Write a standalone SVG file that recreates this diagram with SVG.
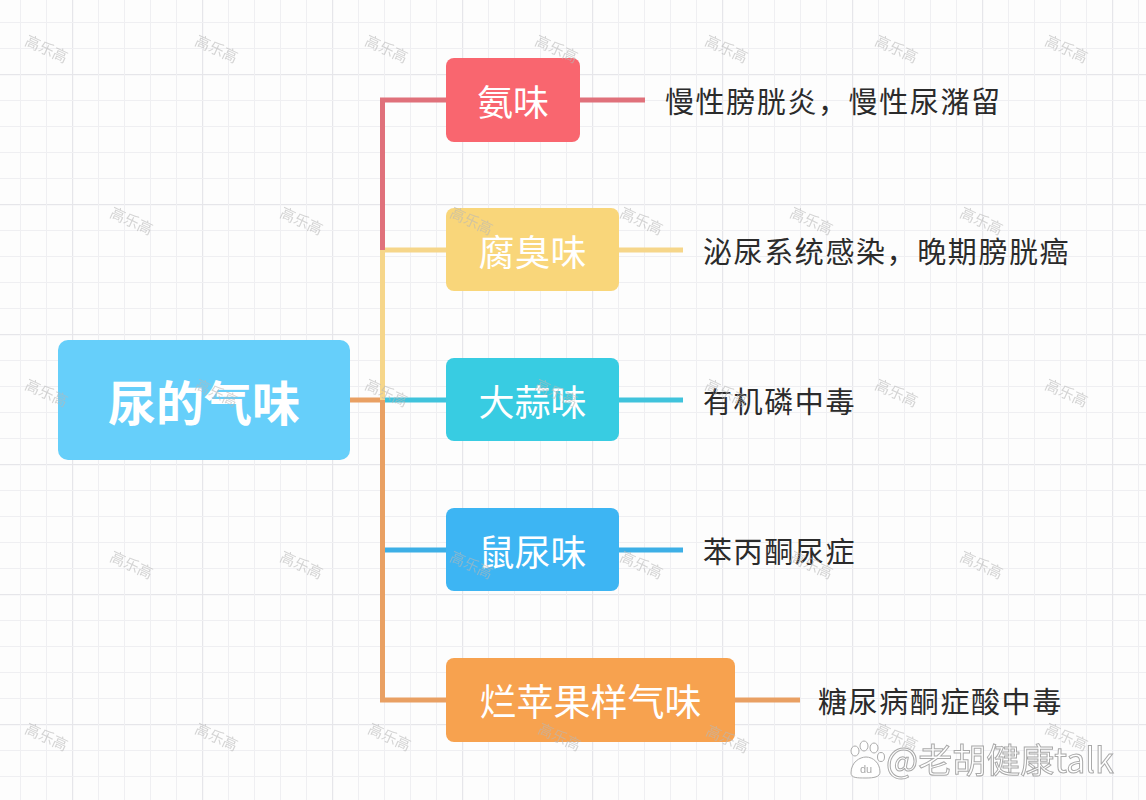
<svg xmlns="http://www.w3.org/2000/svg" width="1146" height="800" viewBox="0 0 1146 800">
  <defs>
    <pattern id="grid" x="72" y="74" width="130" height="130" patternUnits="userSpaceOnUse">
      <rect x="0" y="0" width="1.2" height="130" fill="#e6e6ea"/>
      <rect x="0" y="0" width="130" height="1.2" fill="#e6e6ea"/>
      <rect x="26" y="0" width="1" height="130" fill="#efeff2"/>
      <rect x="52" y="0" width="1" height="130" fill="#efeff2"/>
      <rect x="78" y="0" width="1" height="130" fill="#efeff2"/>
      <rect x="104" y="0" width="1" height="130" fill="#efeff2"/>
      <rect x="0" y="26" width="130" height="1" fill="#efeff2"/>
      <rect x="0" y="52" width="130" height="1" fill="#efeff2"/>
      <rect x="0" y="78" width="130" height="1" fill="#efeff2"/>
      <rect x="0" y="104" width="130" height="1" fill="#efeff2"/>
    </pattern>
  </defs>
  <style>
    .cjk { font-family: "Noto Sans CJK SC", "Noto Sans", sans-serif; }
    .node-text { fill: #ffffff; font-size: 36px; text-anchor: middle; dominant-baseline: central; }
    .root-text { fill: #ffffff; font-size: 48px; font-weight: bold; text-anchor: middle; dominant-baseline: central; }
    .desc { fill: #2b2b2b; font-size: 29px; dominant-baseline: central; letter-spacing: 1.6px; }
    .conn { fill: none; stroke-width: 5; stroke-linejoin: miter; stroke-linecap: butt; }
    .wm { fill: #b8b8b8; font-size: 15px; opacity: 0.6; text-anchor: middle; dominant-baseline: central; }
  </style>

  <rect x="0" y="0" width="1146" height="800" fill="#fdfdfd"/>
  <rect x="0" y="0" width="1146" height="800" fill="url(#grid)"/>

  <g id="connectors">
    <path class="conn" stroke="#E9A063" d="M350 400 H382.5 V700 H446"/>
    <path class="conn" stroke="#F6D68A" d="M382.5 400 V250 H446"/>
    <path class="conn" stroke="#E0717B" d="M382.5 250 V100 H446"/>
    <path class="conn" stroke="#40C3DC" d="M385 400 H446"/>
    <path class="conn" stroke="#3DAFE6" d="M385 550 H446"/>
    <path class="conn" stroke="#E0717B" d="M580 100 H645"/>
    <path class="conn" stroke="#F6D68A" d="M619 250 H683"/>
    <path class="conn" stroke="#40C3DC" d="M619 400 H683"/>
    <path class="conn" stroke="#3DAFE6" d="M619 550 H683"/>
    <path class="conn" stroke="#E9A063" d="M735 700 H800"/>
  </g>

  <g id="root">
    <rect x="58" y="340" width="292" height="120" rx="10" fill="#66CFFA"/>
    <text class="cjk root-text" x="204" y="400">尿的气味</text>
  </g>

  <g id="node-ammonia">
    <rect x="446" y="58" width="134" height="84" rx="8" fill="#F9666F"/>
    <text class="cjk node-text" x="513" y="100">氨味</text>
  </g>
  <g id="desc-ammonia">
    <text class="cjk desc" x="665" y="100">慢性膀胱炎，慢性尿潴留</text>
  </g>

  <g id="node-putrid">
    <rect x="446" y="208" width="173" height="83" rx="8" fill="#F9D67A"/>
    <text class="cjk node-text" x="532.5" y="250">腐臭味</text>
  </g>
  <g id="desc-putrid">
    <text class="cjk desc" x="703" y="250">泌尿系统感染，晚期膀胱癌</text>
  </g>

  <g id="node-garlic">
    <rect x="446" y="358" width="173" height="83" rx="8" fill="#38CCE2"/>
    <text class="cjk node-text" x="532.5" y="400">大蒜味</text>
  </g>
  <g id="desc-garlic">
    <text class="cjk desc" x="703" y="400">有机磷中毒</text>
  </g>

  <g id="node-mouse">
    <rect x="446" y="508" width="173" height="83" rx="8" fill="#3DB5F3"/>
    <text class="cjk node-text" x="532.5" y="550">鼠尿味</text>
  </g>
  <g id="desc-mouse">
    <text class="cjk desc" x="703" y="550">苯丙酮尿症</text>
  </g>

  <g id="node-apple">
    <rect x="446" y="658" width="289" height="84" rx="8" fill="#F7A24F"/>
    <text class="cjk node-text" x="590.5" y="700" style="font-size:37px">烂苹果样气味</text>
  </g>
  <g id="desc-apple">
    <text class="cjk desc" x="818" y="700">糖尿病酮症酸中毒</text>
  </g>

  <g id="watermarks">
    <g class="cjk wm">
      <text transform="translate(47 48) rotate(25)">高乐高</text>
      <text transform="translate(217 48) rotate(25)">高乐高</text>
      <text transform="translate(387 48) rotate(25)">高乐高</text>
      <text transform="translate(557 48) rotate(25)">高乐高</text>
      <text transform="translate(727 48) rotate(25)">高乐高</text>
      <text transform="translate(897 48) rotate(25)">高乐高</text>
      <text transform="translate(1067 48) rotate(25)">高乐高</text>
      <text transform="translate(132 220) rotate(25)">高乐高</text>
      <text transform="translate(302 220) rotate(25)">高乐高</text>
      <text transform="translate(472 220) rotate(25)">高乐高</text>
      <text transform="translate(642 220) rotate(25)">高乐高</text>
      <text transform="translate(812 220) rotate(25)">高乐高</text>
      <text transform="translate(982 220) rotate(25)">高乐高</text>
      <text transform="translate(47 392) rotate(25)">高乐高</text>
      <text transform="translate(217 392) rotate(25)">高乐高</text>
      <text transform="translate(387 392) rotate(25)">高乐高</text>
      <text transform="translate(557 392) rotate(25)">高乐高</text>
      <text transform="translate(727 392) rotate(25)">高乐高</text>
      <text transform="translate(897 392) rotate(25)">高乐高</text>
      <text transform="translate(1067 392) rotate(25)">高乐高</text>
      <text transform="translate(132 564) rotate(25)">高乐高</text>
      <text transform="translate(302 564) rotate(25)">高乐高</text>
      <text transform="translate(472 564) rotate(25)">高乐高</text>
      <text transform="translate(642 564) rotate(25)">高乐高</text>
      <text transform="translate(812 564) rotate(25)">高乐高</text>
      <text transform="translate(982 564) rotate(25)">高乐高</text>
      <text transform="translate(47 736) rotate(25)">高乐高</text>
      <text transform="translate(217 736) rotate(25)">高乐高</text>
      <text transform="translate(390 736) rotate(25)">高乐高</text>
      <text transform="translate(560 736) rotate(25)">高乐高</text>
      <text transform="translate(728 738) rotate(25)">高乐高</text>
      <text transform="translate(897 736) rotate(25)">高乐高</text>
      <text transform="translate(1067 736) rotate(25)">高乐高</text>
    </g>
  </g>

  <g id="credit" opacity="0.85">
    <g fill="#ffffff" stroke="#9a9a9a" stroke-width="1">
      <ellipse cx="855" cy="751" rx="4" ry="5"/>
      <ellipse cx="864" cy="746" rx="4" ry="5"/>
      <ellipse cx="874" cy="748" rx="4" ry="5"/>
      <ellipse cx="881" cy="757" rx="3.5" ry="4.5"/>
      <path d="M851 773 C851 762 860 757 866 757 C873 757 880 763 880 772 C880 777 874 778 866 778 C857 778 851 778 851 773 Z"/>
    </g>
    <text x="866" y="773" fill="#9a9a9a" font-family="Liberation Sans, sans-serif" font-size="11" text-anchor="middle">du</text>
    <text class="cjk" x="886" y="758" font-size="34" fill="#ffffff" stroke="#9a9a9a" stroke-width="1" dominant-baseline="central">@老胡健康talk</text>
  </g>
</svg>
